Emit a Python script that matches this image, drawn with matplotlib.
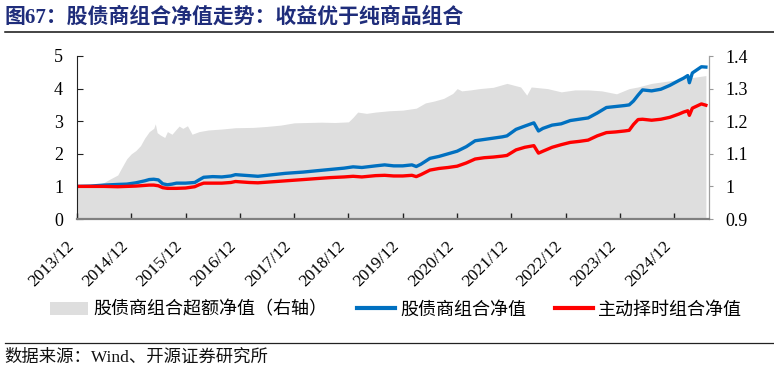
import numpy as np
import pandas as pd
import matplotlib
matplotlib.use('Agg')
import matplotlib.pyplot as plt
from matplotlib.patches import Patch
from matplotlib.lines import Line2D
from matplotlib.ticker import FormatStrFormatter
from matplotlib.transforms import ScaledTranslation
from matplotlib.font_manager import FontProperties

CN = ['Liberation Serif', 'Noto Sans CJK SC']

# excess NAV of stock/bond/commodity mix (right axis)
excess_dates = [
    '2013-12-28', '2014-04-28', '2014-06-28', '2014-07-28', '2014-09-28', '2014-10-28',
    '2014-11-28', '2014-12-28', '2015-01-28', '2015-02-28', '2015-03-28', '2015-04-28',
    '2015-05-28', '2015-06-08', '2015-06-20', '2015-07-10', '2015-08-10', '2015-08-28',
    '2015-09-28', '2015-10-28', '2015-11-15', '2015-12-10', '2016-01-10', '2016-02-10',
    '2016-03-28', '2016-05-28', '2016-08-28', '2016-11-28', '2017-03-28', '2017-06-28',
    '2017-09-28', '2017-12-28', '2018-03-28', '2018-06-28', '2018-09-28', '2018-12-28',
    '2019-01-28', '2019-02-28', '2019-04-28', '2019-06-28', '2019-09-28', '2019-12-28',
    '2020-03-28', '2020-05-28', '2020-07-28', '2020-09-28', '2020-11-28', '2020-12-28',
    '2021-01-28', '2021-03-28', '2021-05-28', '2021-08-28', '2021-11-28', '2022-02-28',
    '2022-04-10', '2022-05-10', '2022-08-28', '2022-11-28', '2023-02-28', '2023-05-28',
    '2023-08-28', '2023-12-05', '2024-02-28', '2024-04-28', '2024-07-28', '2024-10-28',
    '2025-01-28', '2025-04-28', '2025-07-28',
]
excess_vals = [
    1.000, 1.002, 1.012, 1.020, 1.035, 1.060,
    1.085, 1.100, 1.110, 1.125, 1.148, 1.168,
    1.178, 1.192, 1.165, 1.158, 1.150, 1.168,
    1.160, 1.176, 1.185, 1.178, 1.186, 1.160,
    1.168, 1.173, 1.176, 1.180, 1.181, 1.184,
    1.188, 1.195, 1.196, 1.197, 1.196, 1.198,
    1.212, 1.228, 1.224, 1.228, 1.232, 1.234,
    1.240, 1.256, 1.262, 1.270, 1.285, 1.300,
    1.293, 1.296, 1.300, 1.304, 1.316, 1.305,
    1.280, 1.305, 1.300, 1.290, 1.296, 1.296,
    1.293, 1.284, 1.300, 1.305, 1.316, 1.322,
    1.328, 1.334, 1.340,
]

# NAV of the two portfolios (left axis)
nav_dates = [
    '2013-12-28', '2014-03-28', '2014-06-28', '2014-09-28', '2014-11-28', '2015-01-28',
    '2015-03-28', '2015-04-28', '2015-05-28', '2015-06-28', '2015-07-28', '2015-08-28',
    '2015-09-28', '2015-10-28', '2015-12-28', '2016-02-28', '2016-03-28', '2016-04-28',
    '2016-06-28', '2016-08-28', '2016-10-28', '2016-11-28', '2016-12-28', '2017-02-28',
    '2017-04-28', '2017-06-28', '2017-08-28', '2017-10-28', '2017-12-28', '2018-02-28',
    '2018-05-28', '2018-08-28', '2018-11-28', '2019-01-28', '2019-03-28', '2019-06-28',
    '2019-08-28', '2019-10-28', '2019-12-28', '2020-02-28', '2020-03-28', '2020-04-28',
    '2020-06-28', '2020-08-28', '2020-10-28', '2020-12-28', '2021-02-28', '2021-04-28',
    '2021-06-28', '2021-08-28', '2021-10-28', '2021-11-28', '2022-01-28', '2022-03-28',
    '2022-05-28', '2022-06-28', '2022-07-28', '2022-09-28', '2022-11-28', '2023-01-28',
    '2023-03-28', '2023-05-28', '2023-07-28', '2023-09-28', '2023-11-28', '2024-01-28',
    '2024-02-28', '2024-03-28', '2024-04-28', '2024-05-28', '2024-07-28', '2024-09-28',
    '2024-11-28', '2025-01-28', '2025-02-28', '2025-03-28', '2025-04-08', '2025-04-28',
    '2025-06-28', '2025-07-28',
]
mix_vals = [
    1.00, 1.01, 1.04, 1.06, 1.07, 1.11, 1.17, 1.21, 1.22, 1.20,
    1.08, 1.05, 1.07, 1.10, 1.10, 1.12, 1.20, 1.28, 1.30, 1.29,
    1.32, 1.36, 1.35, 1.33, 1.31, 1.34, 1.37, 1.40, 1.42, 1.44,
    1.48, 1.52, 1.56, 1.60, 1.58, 1.63, 1.66, 1.63, 1.63, 1.66,
    1.61, 1.68, 1.86, 1.92, 2.00, 2.08, 2.22, 2.40, 2.44, 2.48,
    2.52, 2.55, 2.75, 2.85, 2.95, 2.70, 2.78, 2.88, 2.92, 3.02,
    3.06, 3.10, 3.25, 3.42, 3.45, 3.48, 3.50, 3.62, 3.80, 3.96,
    3.93, 3.98, 4.10, 4.25, 4.32, 4.40, 4.18, 4.48, 4.67, 4.66,
]
timing_vals = [
    1.00, 1.00, 1.00, 0.99, 1.00, 1.01, 1.03, 1.04, 1.04, 1.02,
    0.96, 0.94, 0.94, 0.94, 0.95, 0.99, 1.05, 1.10, 1.10, 1.10,
    1.12, 1.15, 1.14, 1.12, 1.11, 1.13, 1.15, 1.17, 1.19, 1.21,
    1.24, 1.27, 1.29, 1.31, 1.29, 1.33, 1.34, 1.32, 1.32, 1.34,
    1.30, 1.36, 1.50, 1.55, 1.58, 1.62, 1.72, 1.84, 1.88, 1.90,
    1.93, 1.95, 2.12, 2.20, 2.25, 2.02, 2.08, 2.20, 2.28, 2.35,
    2.38, 2.42, 2.55, 2.65, 2.67, 2.70, 2.72, 2.90, 3.05, 3.06,
    3.03, 3.06, 3.12, 3.22, 3.28, 3.32, 3.18, 3.40, 3.53, 3.49,
]

tick_dates = ['%d-12-28' % y for y in range(2013, 2025)]
tick_labels = ['%d/12' % y for y in range(2013, 2025)]

labels = ['股债商组合超额净值（右轴）', '股债商组合净值', '主动择时组合净值']
gray = '#DEDEDE'
blue = '#0070C0'
red = '#FF0000'

ex_d = pd.to_datetime(excess_dates)
nav_d = pd.to_datetime(nav_dates)

fig = plt.figure(figsize=(7.74, 3.74), dpi=100)
ax = fig.add_axes([77 / 774, 1 - 219 / 374, (709 - 77) / 774, (219 - 56) / 374])
ax2 = ax.twinx()
ax.set_zorder(ax2.get_zorder() + 1)
ax.patch.set_visible(False)

ax2.fill_between(ex_d, 0.9, excess_vals, color=gray, linewidth=0)
ax.plot(nav_d, mix_vals, color=blue, lw=2.4, solid_joinstyle='round')
ax.plot(nav_d, timing_vals, color=red, lw=2.4, solid_joinstyle='round')

ax.set_xlim(pd.Timestamp('2013-12-28'), pd.Timestamp('2025-08-18'))
ax.set_ylim(0, 5)
ax2.set_ylim(0.9, 1.4)
ax.set_yticks(range(0, 6))
ax2.set_yticks([0.9, 1.0, 1.1, 1.2, 1.3, 1.4])
ax2.yaxis.set_major_formatter(FormatStrFormatter('%g'))

ax.set_xticks(pd.to_datetime(tick_dates))
ax.set_xticklabels(tick_labels, rotation=45, ha='right')
for lab in ax.get_xticklabels():
    lab.set_transform(lab.get_transform() + ScaledTranslation(0.05, 0, fig.dpi_scale_trans))

tick_font = FontProperties(family=CN, size=13)
for lab in ax.get_xticklabels() + ax.get_yticklabels() + ax2.get_yticklabels():
    lab.set_fontproperties(tick_font)
for lab in ax.get_xticklabels():
    lab.set_fontsize(12.5)

ax.tick_params(axis='x', direction='in', length=4, width=1, color='#222222', pad=14)
ax.tick_params(axis='y', direction='in', length=4, width=0.8, color='#222222', pad=10)
ax2.tick_params(axis='y', direction='out', length=3, width=0.8, color='#999999', pad=9)

for s in ['top', 'right']:
    ax.spines[s].set_visible(False)
for s in ['top', 'left', 'bottom']:
    ax2.spines[s].set_visible(False)
ax.spines['left'].set_color('#222222')
ax.spines['left'].set_linewidth(0.8)
ax.spines['bottom'].set_color('#808080')
ax.spines['bottom'].set_linewidth(1.6)
ax2.spines['right'].set_color('#A0A0A0')
ax2.spines['right'].set_linewidth(0.9)

handles = [Patch(facecolor=gray, edgecolor='none'),
           Line2D([], [], color=blue, lw=3),
           Line2D([], [], color=red, lw=3)]
fig.legend(handles, labels, loc='center', bbox_to_anchor=(0.512, 1 - 310 / 374), ncol=3,
           frameon=False, prop=FontProperties(family=CN, size=13),
           handlelength=2.1, handletextpad=0.3, columnspacing=1.6)

fig.text(0.006, 1 - 18 / 374, '图67：股债商组合净值走势：收益优于纯商品组合',
         family=CN, fontsize=15, fontweight='bold', color='#1F2D7B', va='center')
fig.add_artist(Line2D([5 / 774, 1], [1 - 31.5 / 374] * 2, color='#111111', lw=1.1))
fig.add_artist(Line2D([5 / 774, 1], [1 - 343 / 374] * 2, color='#222222', lw=0.9))
fig.text(0.006, 1 - 358 / 374, '数据来源：Wind、开源证券研究所',
         family=CN, fontsize=12.5, color='#111111', va='center')

fig.savefig('out.png', dpi=100)
